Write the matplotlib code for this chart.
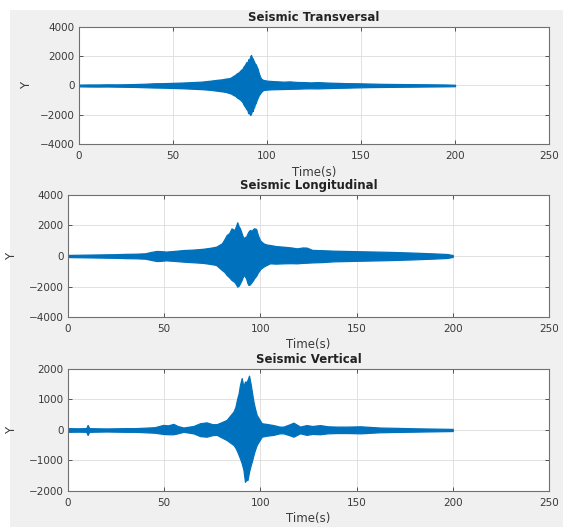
import matplotlib
matplotlib.use("Agg")
import matplotlib.pyplot as plt
from matplotlib.patches import Rectangle

# Envelope of each seismic trace (time in s, upper / lower amplitude)
trans_t = [0, 5, 10, 15, 20, 25, 30, 35, 40, 45, 50, 55, 60, 65, 70, 73, 76, 78, 80, 81,
           82, 83, 84, 85, 86, 87, 87.5, 88.3, 89, 89.6, 90, 90.5, 91, 91.5, 92, 92.4, 92.7,
           93.1, 93.5, 94, 94.5, 95, 95.5, 96.3, 97, 98, 100, 103, 106, 109, 112, 116, 120,
           123, 127, 132, 137, 142, 148, 155, 162, 170, 178, 186, 194, 200]
trans_hi = [60, 70, 70, 80, 75, 85, 100, 120, 150, 160, 180, 200, 230, 260, 330, 380, 420,
            470, 500, 560, 650, 720, 840, 900, 1050, 1150, 1290, 1420, 1600, 1550, 1800, 1720,
            1970, 2090, 1900, 1850, 1740, 1650, 1500, 1450, 1290, 1150, 900, 600, 450, 380,
            330, 300, 280, 260, 280, 240, 230, 210, 230, 200, 180, 160, 150, 130, 110, 100,
            90, 80, 70, 50]
trans_lo = [-60, -70, -75, -70, -80, -90, -100, -120, -140, -150, -170, -190, -220, -250,
            -300, -350, -400, -440, -520, -560, -650, -700, -820, -900, -1000, -1150, -1300,
            -1450, -1600, -1700, -1900, -1850, -2020, -1950, -1700, -1750, -1560, -1500,
            -1300, -1200, -990, -850, -700, -540, -420, -310, -280, -260, -250, -240, -230,
            -220, -200, -195, -200, -180, -160, -150, -130, -110, -100, -90, -80, -70, -60,
            -50]

long_t = [0, 5, 10, 15, 20, 25, 30, 35, 40, 43, 46, 48, 51, 55, 60, 65, 70, 74, 77, 80,
          81.3, 82.5, 83.8, 85, 86.5, 87.3, 88, 88.7, 89.4, 90.5, 91.2, 92, 92.6, 93.2, 93.8,
          94.6, 95.5, 96.1, 96.7, 97.8, 98.4, 99, 100, 101.6, 103, 105, 108, 112, 116, 119,
          122, 124, 127, 132, 138, 145, 152, 162, 170, 180, 190, 197, 200]
long_hi = [70, 80, 90, 100, 110, 120, 140, 150, 175, 260, 330, 320, 290, 330, 390, 420, 470,
           540, 610, 830, 1100, 1380, 1500, 1810, 1700, 1950, 2210, 1950, 1810, 1400, 1160,
           1250, 1270, 1450, 1600, 1710, 1650, 1750, 1820, 1770, 1500, 1270, 1000, 830, 760,
           720, 650, 610, 560, 500, 560, 550, 400, 380, 350, 330, 310, 285, 260, 220, 170,
           130, 60]
long_lo = [-70, -80, -90, -100, -110, -120, -140, -150, -175, -250, -330, -320, -285, -320,
           -370, -410, -450, -520, -590, -920, -1050, -1250, -1400, -1570, -1700, -1850,
           -2010, -1950, -1790, -1500, -1250, -1350, -1470, -1750, -1900, -1860, -1700,
           -1600, -1470, -1300, -1150, -1030, -850, -700, -600, -480, -500, -480, -470, -480,
           -450, -440, -420, -400, -350, -330, -310, -285, -260, -220, -170, -130, -60]

vert_t = [0, 5, 9.5, 10.2, 11, 15, 20, 25, 30, 35, 40, 45, 49.5, 52, 54.8, 57, 60, 63, 65.2,
          68.6, 72, 75, 77.3, 80, 82.5, 84, 86, 87, 88, 88.7, 89.4, 90.3, 91.2, 92, 92.6,
          93.3, 94.1, 95, 95.7, 96.4, 97.2, 98.1, 100.7, 103, 106.8, 110, 112, 115, 117.2,
          120.6, 124, 127, 131, 135, 140, 145, 152, 162, 170, 180, 190, 200]
vert_hi = [60, 55, 60, 165, 60, 55, 50, 55, 60, 60, 75, 90, 165, 150, 200, 130, 80, 110, 130,
           220, 250, 190, 190, 260, 330, 450, 600, 750, 1040, 1200, 1480, 1700, 1420, 1590,
           1560, 1640, 1780, 1480, 1200, 930, 700, 490, 220, 200, 160, 110, 110, 180, 240,
           110, 160, 130, 160, 120, 110, 110, 120, 80, 70, 55, 45, 35]
vert_lo = [-60, -55, -60, -165, -60, -55, -50, -55, -60, -60, -75, -90, -130, -140, -140,
           -110, -60, -90, -110, -200, -220, -170, -160, -250, -330, -400, -490, -580, -710,
           -820, -930, -1090, -1310, -1700, -1640, -1640, -1370, -1150, -1000, -820, -650,
           -490, -220, -190, -160, -110, -110, -170, -220, -110, -160, -130, -140, -110,
           -100, -100, -110, -75, -65, -55, -45, -35]

titles = ["Seismic Transversal", "Seismic Longitudinal", "Seismic Vertical"]
x_ticks = [0, 50, 100, 150, 200, 250]
y_ticks_big = [-4000, -2000, 0, 2000, 4000]
y_ticks_small = [-2000, -1000, 0, 1000, 2000]

BLUE = "#0072BD"
TXT = "#3a3a3a"


def style_axes(ax, yticks, ylab_x, xlab_y):
    ax.set_xlim(0, 250)
    ax.set_ylim(yticks[0], yticks[-1])
    ax.set_xticks(x_ticks)
    ax.set_yticks(yticks)
    ax.grid(True, color="#dcdcdc", linewidth=0.6)
    ax.set_axisbelow(True)
    ax.tick_params(direction="in", length=3, width=0.6, top=True, right=True,
                   labelsize=7.5, colors=TXT, pad=3)
    ax.tick_params(axis="x", pad=5)
    for s in ax.spines.values():
        s.set_color("#707070")
        s.set_linewidth(0.8)
    ax.set_ylabel("Y", fontsize=8.5, color=TXT)
    ax.yaxis.set_label_coords(ylab_x, 0.5)
    ax.set_xlabel("Time(s)", fontsize=8.5, color=TXT)
    ax.xaxis.set_label_coords(0.5, xlab_y)


def main():
    fig = plt.figure(figsize=(5.68, 5.28), dpi=100)
    fig.patch.set_facecolor("white")
    fig.patches.append(Rectangle((10 / 568, 1 / 528), 553 / 568, 517 / 528,
                                 transform=fig.transFigure, facecolor="#f0f0f0",
                                 edgecolor="none", zorder=-1))

    positions = [
        [0.1391, 0.7273, 0.8275, 0.2216],
        [0.1197, 0.3996, 0.8468, 0.2311],
        [0.1197, 0.0701, 0.8468, 0.2311],
    ]
    traces = [
        (trans_t, trans_hi, trans_lo, y_ticks_big, -0.097, -0.185),
        (long_t, long_hi, long_lo, y_ticks_big, -0.103, -0.17),
        (vert_t, vert_hi, vert_lo, y_ticks_small, -0.103, -0.175),
    ]

    for pos, title, (t, hi, lo, yt, lx, ly) in zip(positions, titles, traces):
        ax = fig.add_axes(pos)
        ax.set_facecolor("white")
        ax.fill_between(t, lo, hi, color=BLUE, edgecolor=BLUE, linewidth=0.9)
        style_axes(ax, yt, lx, ly)
        ax.set_title(title, fontsize=8.5, fontweight="bold", color="#222222", pad=4)

    fig.savefig("out.png", dpi=100)
    plt.close(fig)


if __name__ == "__main__":
    main()
